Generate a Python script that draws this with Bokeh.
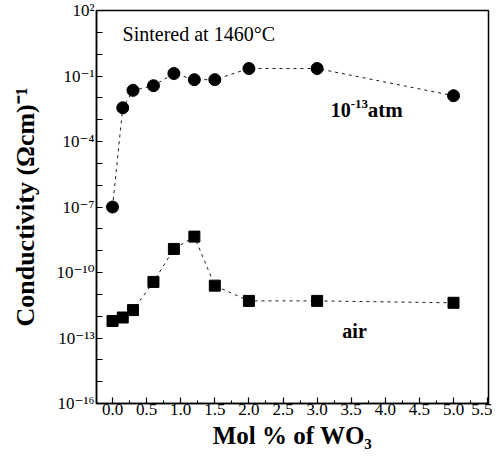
from bokeh.plotting import figure
from bokeh.models import FixedTicker, Range1d, Label
from bokeh.core.properties import value
from bokeh.embed import file_html
from bokeh.resources import INLINE

# ---- data ----
wo3_mol = [0.0, 0.15, 0.3, 0.6, 0.9, 1.2, 1.5, 2.0, 3.0, 5.0]
sigma_low_po2 = [1.0e-7, 3.5e-3, 2.2e-2, 3.6e-2, 1.3e-1, 6.8e-2, 6.8e-2, 2.2e-1, 2.2e-1, 1.25e-2]
sigma_air = [6.0e-13, 8.7e-13, 1.9e-12, 3.7e-11, 1.2e-9, 4.4e-9, 2.5e-11, 5.0e-12, 5.0e-12, 4.1e-12]

x_ticks = [0.0, 0.5, 1.0, 1.5, 2.0, 2.5, 3.0, 3.5, 4.0, 4.5, 5.0, 5.5]
x_tick_labels = ["0.0", "0.5", "1.0", "1.5", "2.0", "2.5", "3.0", "3.5", "4.0", "4.5", "5.0", "5.5"]
x_minor = [0.25, 0.75, 1.25, 1.75, 2.25, 2.75, 3.25, 3.75, 4.25, 4.75, 5.25]

y_exponents = list(range(-16, 3))
y_label_exponents = [2, -1, -4, -7, -10, -13, -16]
y_tick_labels = ["10²", "10⁻¹", "10⁻⁴", "10⁻⁷", "10⁻¹⁰", "10⁻¹³", "10⁻¹⁶"]

FONT = "Liberation Serif"
TICK_FONT = "Liberation Serif, DejaVu Serif"
X0, X1 = -0.235, 5.513

p = figure(width=492, height=454, output_backend="svg", toolbar_location=None,
           y_axis_type="log",
           x_range=Range1d(X0, X1), y_range=Range1d(1e-16, 1e2),
           min_border_left=96, min_border_right=4, min_border_top=10, min_border_bottom=51)
p.background_fill_color = "white"
p.border_fill_color = "white"
p.outline_line_color = "black"
p.outline_line_width = 1.5
p.xgrid.visible = False
p.ygrid.visible = False

# x axis
xax = p.xaxis[0]
xax.ticker = FixedTicker(ticks=x_ticks, minor_ticks=x_minor)
xax.major_label_overrides = {float(t): l for t, l in zip(x_ticks, x_tick_labels)}
xax.major_tick_in = 6
xax.major_tick_out = 0
xax.minor_tick_in = 3
xax.minor_tick_out = 0
xax.major_label_standoff = 0
xax.major_label_text_font = FONT
xax.major_label_text_font_size = "17px"
xax.major_label_text_color = "black"
xax.axis_label = "Mol % of WO₃"
xax.axis_label_text_font = FONT
xax.axis_label_text_font_style = "bold"
xax.axis_label_text_font_size = "25px"
xax.axis_label_text_color = "black"
xax.axis_label_standoff = 4

# y axis
yax = p.yaxis[0]
yax.ticker = FixedTicker(ticks=[10.0 ** k for k in y_exponents], minor_ticks=[])
overrides = {10.0 ** k: "" for k in y_exponents}
overrides.update({10.0 ** k: t for k, t in zip(y_label_exponents, y_tick_labels)})
yax.major_label_overrides = overrides
yax.major_tick_in = 6
yax.major_tick_out = 0
yax.minor_tick_in = 0
yax.minor_tick_out = 0
yax.major_label_standoff = 2
yax.major_label_text_font = TICK_FONT
yax.major_label_text_font_size = "17px"
yax.major_label_text_color = "black"
yax.axis_label = "Conductivity (Ωcm)⁻¹"
yax.axis_label_text_font = FONT
yax.axis_label_text_font_style = "bold"
yax.axis_label_text_font_size = "26px"
yax.axis_label_text_color = "black"
yax.axis_label_standoff = 14

for ax in (xax, yax):
    ax.axis_line_width = 1.5
    ax.axis_line_color = "black"
    ax.major_tick_line_color = "black"
    ax.minor_tick_line_color = "black"
    ax.major_tick_line_width = 1.2

# series
p.line(wo3_mol, sigma_low_po2, line_color="black", line_width=0.9, line_dash="3 4")
p.scatter(wo3_mol, sigma_low_po2, marker="circle", size=12, fill_color="black", line_color="black")
p.line(wo3_mol, sigma_air, line_color="black", line_width=0.9, line_dash="3 4")
p.scatter(wo3_mol, sigma_air, marker="square", size=11, fill_color="black", line_color="black")

# annotations
p.text(x=[0.147], y=[10 ** 0.94], text=["Sintered at 1460°C"], text_font=value(FONT),
       text_font_size="20px", text_baseline="middle", text_align="left", text_color="black")
atm_x, atm_y = 3.2, 10 ** -2.55
p.add_layout(Label(x=atm_x, y=atm_y, text="10", text_font=FONT, text_font_size="20px",
                   text_font_style="bold", text_color="black", text_align="left",
                   text_baseline="middle"))
p.add_layout(Label(x=atm_x, y=atm_y, text="-13", text_font=FONT, text_font_size="13px",
                   text_font_style="bold", text_color="black", text_align="left",
                   text_baseline="middle", x_offset=20, y_offset=6))
p.add_layout(Label(x=atm_x, y=atm_y, text="atm", text_font=FONT, text_font_size="21px",
                   text_font_style="bold", text_color="black", text_align="left",
                   text_baseline="middle", x_offset=37))
p.text(x=[3.37], y=[10 ** -12.69], text=["air"], text_font=value(FONT),
       text_font_size="20px", text_font_style="bold", text_baseline="middle", text_align="left",
       text_color="black")

open("out.html", "w").write(file_html(p, INLINE))
